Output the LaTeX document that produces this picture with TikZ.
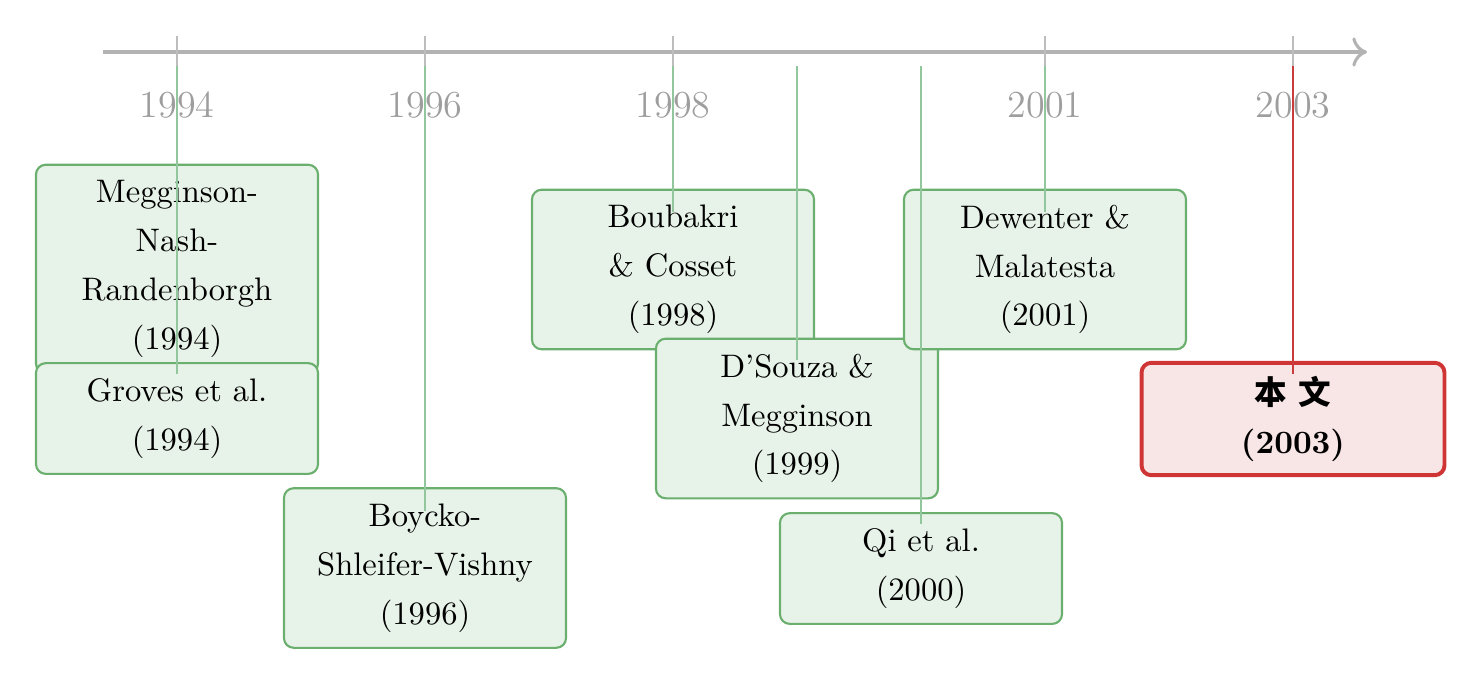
\documentclass[tikz,border=0pt]{standalone}
\usepackage{fontspec}
\newfontfamily\cjk{Noto Sans CJK SC}
\usetikzlibrary{arrows.meta,calc}
\definecolor{axisgray}{HTML}{B3B3B3}
\definecolor{yeargray}{HTML}{9E9E9E}
\definecolor{tickgray}{HTML}{BDBDBD}
\definecolor{boxfill}{HTML}{E7F2E8}
\definecolor{boxdraw}{HTML}{6AAF6E}
\definecolor{linkgreen}{HTML}{92C69C}
\definecolor{redfill}{HTML}{F8E5E6}
\definecolor{reddraw}{HTML}{D03535}
\definecolor{linkred}{HTML}{CC3B3B}
\tikzset{
  paper/.style={draw=boxdraw, fill=boxfill, line width=0.65pt, rounded corners=3pt,
    minimum width=86.6pt, align=center, inner xsep=2pt, inner ysep=2pt,
    font=\fontsize{10}{15}\selectfont},
  two/.style={minimum height=34pt},
  three/.style={minimum height=49pt},
  four/.style={minimum height=64pt},
  ours/.style={draw=reddraw, fill=redfill, line width=1.2pt, rounded corners=3pt,
    minimum width=93pt, minimum height=34.5pt, align=center, inner ysep=2pt,
    font=\fontsize{10}{15}\selectfont},
  yearlbl/.style={text=yeargray, font=\fontsize{11.7}{14}\selectfont},
  tickline/.style={draw=tickgray, line width=0.45pt},
  glink/.style={draw=linkgreen, line width=0.6pt},
  rlink/.style={draw=linkred, line width=0.6pt},
}
\begin{document}
\begin{tikzpicture}[x=0.307pt, y=-0.307pt]
\useasboundingbox (0,0) rectangle (1483,686);
% axis
\coordinate (axs) at (103,52);
\coordinate (axe) at (1367,52);
\draw[axisgray, line width=0.95pt, -{Computer Modern Rightarrow[length=4.5pt,width=9pt]}] (axs) -- (axe);
% year labels
\node[yearlbl] (y1994) at (177,105) {1994};
\node[yearlbl] (y1996) at (425,105) {1996};
\node[yearlbl] (y1998) at (673,105) {1998};
\node[yearlbl] (y2001) at (1045,105) {2001};
\node[yearlbl] (y2003) at (1293,105) {2003};
% boxes
\node[paper, four] (meg) at (177,269) {Megginson-\\Nash-\\Randenborgh\\(1994)};
\node[paper, two] (grv) at (177,418.5) {Groves et al.\\(1994)};
\node[paper, three] (bsv) at (425,568) {Boycko-\\Shleifer-Vishny\\(1996)};
\node[paper, three] (bc) at (673,269.5) {Boubakri\\\& Cosset\\(1998)};
\node[paper, three] (dm) at (797,418.5) {D'Souza \&\\Megginson\\(1999)};
\node[paper, two] (qi) at (921,568.5) {Qi et al.\\(2000)};
\node[paper, three] (dw) at (1045,269.5) {Dewenter \&\\Malatesta\\(2001)};
\node[ours] (bw) at (1293,419) {{\cjk\bfseries 本\hspace{0.35em}文}\\\textbf{(2003)}};
% tick marks
\foreach \x/\n in {177/1994, 425/1996, 673/1998, 1045/2001, 1293/2003} {
  \coordinate (t\n) at (\x,36);
  \coordinate (s\n) at (\x,66);
  \draw[tickline] (t\n) -- (s\n);
}
\coordinate (s1999) at (797,66);
\coordinate (s2000) at (921,66);
% links
\draw[glink] (s1994) -- (s1994 |- {$(grv.north)+(0,12)$});
\draw[glink] (s1996) -- (s1996 |- {$(bsv.north)+(0,24)$});
\draw[glink] (s1998) -- (s1998 |- {$(bc.north)+(0,23)$});
\draw[glink] (s1999) -- (s1999 |- {$(dm.north)+(0,22)$});
\draw[glink] (s2000) -- (s2000 |- {$(qi.north)+(0,12)$});
\draw[glink] (s2001) -- (s2001 |- {$(dw.north)+(0,23)$});
\draw[rlink] (s2003) -- (s2003 |- {$(bw.north)+(0,13)$});
\end{tikzpicture}
\end{document}
